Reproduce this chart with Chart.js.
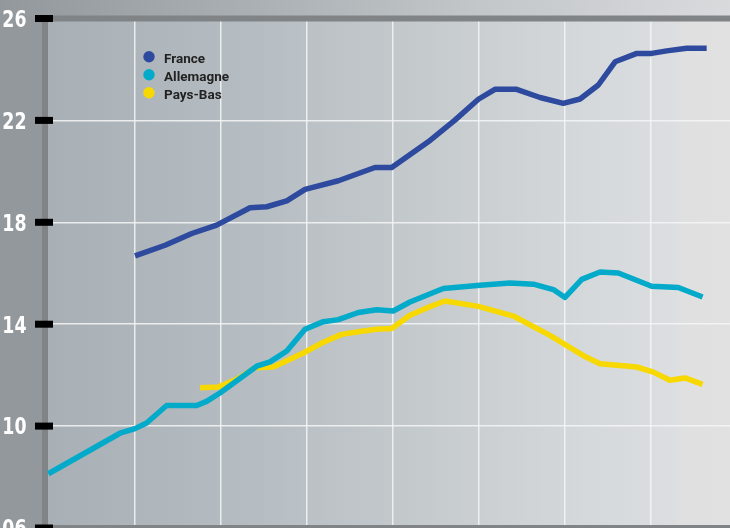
<!DOCTYPE html>
<html>
<head>
<meta charset="utf-8">
<script src="https://cdn.jsdelivr.net/npm/chart.js@4/dist/chart.umd.min.js"></script>
<style>
  html, body { margin: 0; padding: 0; background: #9a9fa3; }
  canvas { display: block; }
</style>
</head>
<body>
<canvas id="chart" width="730" height="528"></canvas>
<script>
// Series, x in years, y in %
const franceYears = [1982.00, 1983.40, 1984.64, 1985.80, 1987.35, 1988.13, 1989.06, 1989.91, 1991.46, 1993.16, 1993.94, 1995.64, 1996.88, 1997.97, 1998.74, 1999.75, 2000.84, 2001.92, 2002.70, 2003.55, 2004.33, 2005.34, 2006.03, 2006.73, 2007.66, 2008.59];
const franceValues = [16.68, 17.10, 17.56, 17.89, 18.57, 18.61, 18.84, 19.29, 19.63, 20.15, 20.15, 21.16, 22.01, 22.83, 23.22, 23.22, 22.90, 22.67, 22.84, 23.39, 24.30, 24.63, 24.63, 24.73, 24.83, 24.83];

const allemagneYears = [1977.97, 1981.30, 1982.00, 1982.54, 1983.47, 1984.87, 1985.33, 1985.95, 1987.66, 1988.28, 1989.06, 1989.91, 1990.76, 1991.46, 1992.39, 1993.24, 1994.01, 1994.79, 1996.34, 1998.05, 1999.44, 2000.53, 2001.46, 2002.00, 2002.78, 2003.63, 2004.48, 2006.03, 2007.27, 2008.40];
const allemagneValues = [8.13, 9.72, 9.90, 10.12, 10.81, 10.81, 10.97, 11.30, 12.35, 12.52, 12.95, 13.80, 14.10, 14.18, 14.46, 14.57, 14.52, 14.87, 15.40, 15.53, 15.62, 15.57, 15.36, 15.05, 15.76, 16.05, 16.01, 15.49, 15.44, 15.07];

const paysBasYears = [1985.02, 1985.87, 1986.73, 1987.58, 1988.43, 1989.21, 1989.83, 1990.68, 1991.61, 1992.62, 1993.24, 1993.94, 1994.79, 1995.57, 1996.42, 1997.97, 1999.60, 2001.30, 2002.93, 2003.63, 2005.34, 2006.11, 2006.88, 2007.58, 2008.40];
const paysBasValues = [11.51, 11.53, 11.84, 12.29, 12.32, 12.62, 12.87, 13.26, 13.60, 13.73, 13.80, 13.83, 14.35, 14.64, 14.91, 14.70, 14.32, 13.56, 12.73, 12.45, 12.32, 12.12, 11.80, 11.89, 11.64];

const seriesLabels = ['France', 'Allemagne', 'Pays-Bas'];
const seriesColors = ['#2e4a9e', '#04aac9', '#f7d800'];

const yTicks = [26, 22, 18, 14, 10, 6];
const xGridYears = [1982, 1986, 1990, 1994, 1998, 2002, 2006];

function toPoints(xs, ys) {
    return xs.map((x, i) => ({ x: x, y: ys[i] }));
}

// Greyish backdrop: frame strips plus the lighter plot panel
const backdrop = {
    id: 'backdrop',
    beforeDraw(chart) {
        const { ctx, width, height, chartArea } = chart;
        ctx.save();
        let g = ctx.createLinearGradient(0, 0, width, 0);
        g.addColorStop(0, '#93989c');
        g.addColorStop(0.35, '#aab0b4');
        g.addColorStop(0.65, '#c2c6c9');
        g.addColorStop(1, '#d9dadc');
        ctx.fillStyle = g;
        ctx.fillRect(0, 0, width, height);

        ctx.fillStyle = '#93989d';
        ctx.fillRect(0, 16, 42, height - 16);

        const left = chartArea.left + 3;
        g = ctx.createLinearGradient(left, 0, width, 0);
        g.addColorStop(0, '#a8b0b5');
        g.addColorStop(0.3, '#b6bdc2');
        g.addColorStop(0.55, '#c5cacd');
        g.addColorStop(0.8, '#d5d9db');
        g.addColorStop(0.92, '#dcdee0');
        g.addColorStop(0.93, '#e0e0e0');
        g.addColorStop(1, '#e1e1e1');
        ctx.fillStyle = g;
        ctx.fillRect(left, chartArea.top, width - left, height - chartArea.top);
        ctx.restore();
    }
};

// Axis bands, black tick marks and the white y labels
const frame = {
    id: 'frame',
    beforeDatasetsDraw(chart) {
        const { ctx, width, height, chartArea, scales } = chart;
        const y = scales.y;
        ctx.save();
        ctx.fillStyle = '#808487';
        ctx.fillRect(chartArea.left - 3, chartArea.top - 3, width, 6);
        ctx.fillRect(chartArea.left - 3, chartArea.top - 3, 6, height);
        ctx.fillRect(chartArea.left - 3, height - 3, width, 3);

        ctx.font = 'bold 23px "Liberation Sans Narrow", "DejaVu Sans Condensed", sans-serif';
        ctx.textAlign = 'right';
        ctx.textBaseline = 'alphabetic';
        yTicks.forEach(v => {
            const py = y.getPixelForValue(v);
            ctx.fillStyle = '#000';
            ctx.fillRect(35, py - 3.5, 18, 7);
            ctx.save();
            ctx.translate(26.5, py + 8.3);
            ctx.scale(0.84, 1);
            ctx.fillStyle = '#ffffff';
            ctx.fillText(String(v).padStart(2, '0'), 0, 0);
            ctx.restore();
        });
        ctx.restore();
    }
};

// Dot legend in the upper left of the panel
const dotLegend = {
    id: 'dotLegend',
    afterDraw(chart) {
        const { ctx } = chart;
        ctx.save();
        ctx.font = 'bold 13.5px Roboto, "Liberation Sans", sans-serif';
        ctx.textAlign = 'left';
        ctx.textBaseline = 'alphabetic';
        chart.data.datasets.forEach((ds, i) => {
            const cy = 56.7 + i * 18;
            ctx.beginPath();
            ctx.arc(149, cy, 5.7, 0, Math.PI * 2);
            ctx.fillStyle = ds.borderColor;
            ctx.fill();
            ctx.fillStyle = '#222222';
            ctx.fillText(ds.label, 164, cy + 5.9);
        });
        ctx.restore();
    }
};

const datasets = [
    toPoints(franceYears, franceValues),
    toPoints(allemagneYears, allemagneValues),
    toPoints(paysBasYears, paysBasValues)
].map((pts, i) => ({
    label: seriesLabels[i],
    data: pts,
    borderColor: seriesColors[i],
    backgroundColor: seriesColors[i],
    borderWidth: 5.5,
    pointRadius: 0,
    tension: 0,
    fill: false,
    borderJoinStyle: 'round',
    borderCapStyle: 'butt'
}));

new Chart(document.getElementById('chart'), {
    type: 'line',
    data: { datasets: datasets },
    options: {
        responsive: false,
        animation: false,
        devicePixelRatio: 1,
        layout: { padding: { left: 45, top: 18.5, right: 0, bottom: 0 } },
        plugins: { legend: { display: false }, tooltip: { enabled: false } },
        scales: {
            x: {
                type: 'linear',
                min: 1978 - 4 / 21.5,
                max: 1978 + 681 / 21.5,
                afterBuildTicks: axis => { axis.ticks = xGridYears.map(v => ({ value: v })); },
                ticks: { display: false },
                grid: { color: 'rgba(245,246,247,0.85)', lineWidth: 1.5, drawTicks: false },
                border: { display: false }
            },
            y: {
                min: 6,
                max: 26,
                afterBuildTicks: axis => { axis.ticks = yTicks.map(v => ({ value: v })); },
                ticks: { display: false },
                grid: { color: 'rgba(245,246,247,0.85)', lineWidth: 1.5, drawTicks: false },
                border: { display: false }
            }
        }
    },
    plugins: [backdrop, frame, dotLegend]
});
</script>
</body>
</html>
